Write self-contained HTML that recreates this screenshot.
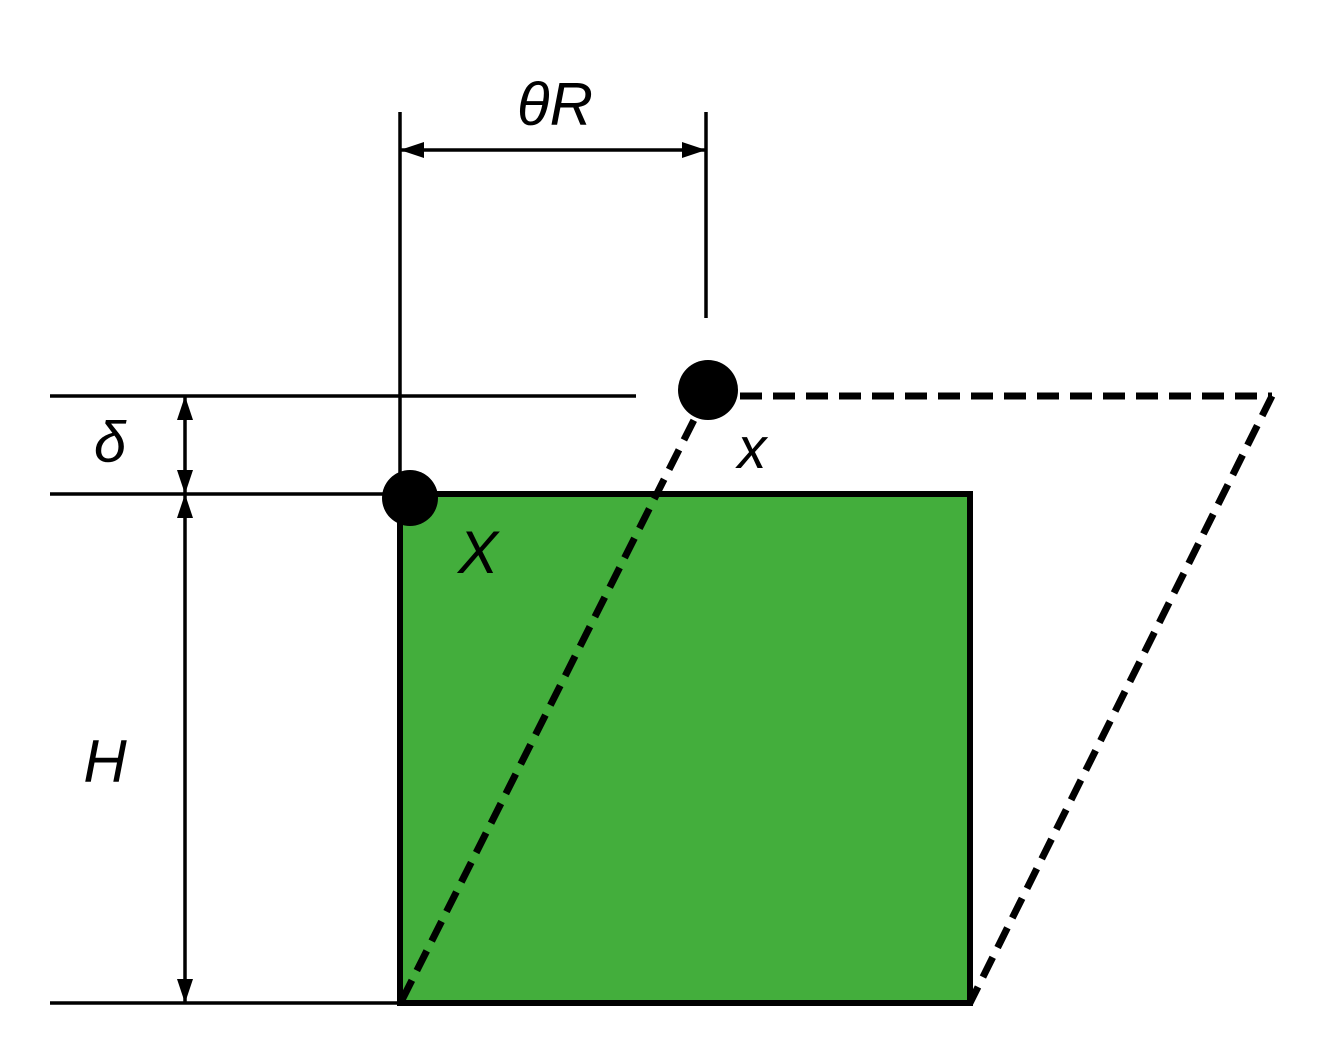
<!DOCTYPE html>
<html><head><style>body{margin:0;background:#fff}svg{display:block}text{font-family:"Liberation Sans",sans-serif;font-style:italic;fill:#000}</style></head>
<body>
<svg width="1327" height="1056" viewBox="0 0 1327 1056" xmlns="http://www.w3.org/2000/svg">
<defs>
<marker id="a" viewBox="0 0 24 20" refX="23" refY="10" markerWidth="24" markerHeight="20" markerUnits="userSpaceOnUse" orient="auto-start-reverse">
<path d="M0,2 L24,10 L0,18 Z" fill="#000"/></marker>
</defs>
<rect x="400" y="494" width="570" height="509" fill="#43ae3c" stroke="#000" stroke-width="6"/>
<g stroke="#000" stroke-width="3.5" fill="none">
<line x1="50" y1="396" x2="636" y2="396"/>
<line x1="50" y1="494" x2="400" y2="494"/>
<line x1="50" y1="1003" x2="400" y2="1003"/>
<line x1="400" y1="112" x2="400" y2="494"/>
<line x1="706" y1="112" x2="706" y2="318"/>
<line x1="401" y1="150" x2="705" y2="150" marker-start="url(#a)" marker-end="url(#a)"/>
<line x1="185" y1="397" x2="185" y2="493" marker-start="url(#a)" marker-end="url(#a)"/>
<line x1="185" y1="495" x2="185" y2="1002" marker-start="url(#a)" marker-end="url(#a)"/>
</g>
<g stroke="#000" stroke-width="7" fill="none" stroke-dasharray="22,11">
<line x1="402" y1="1000" x2="700" y2="408"/>
<line x1="740" y1="396" x2="1272" y2="396"/>
<line x1="1272" y1="396" x2="970" y2="1003"/>
</g>
<circle cx="410" cy="498" r="28" fill="#000"/>
<circle cx="708" cy="390" r="30" fill="#000"/>
<text x="555" y="125" font-size="60" text-anchor="middle">θR</text>
<text x="110" y="462" font-size="58" text-anchor="middle">δ</text>
<text x="752" y="468" font-size="58" text-anchor="middle">x</text>
<text x="478" y="573" font-size="60" text-anchor="middle">X</text>
<text x="105" y="782" font-size="60" text-anchor="middle">H</text>
</svg>
</body></html>
